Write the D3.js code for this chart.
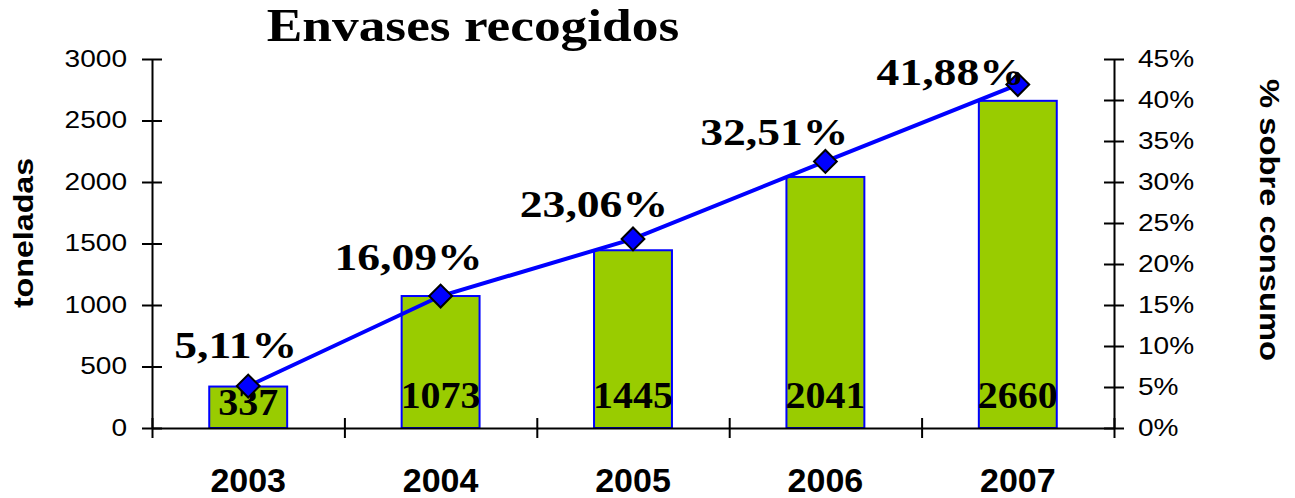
<!DOCTYPE html>
<html lang="es">
<head>
<meta charset="UTF-8">
<script src="https://d3js.org/d3.v7.min.js"></script>
<title>Envases recogidos</title>
<style>
  body { margin: 0; background: #fff; }
  svg text { fill: #000; }
</style>
</head>
<body>
<svg id="chart" width="1295" height="498"></svg>
<script>
// datos
var years = ["2003", "2004", "2005", "2006", "2007"];
var toneladas = [337, 1073, 1445, 2041, 2660];
var porcentaje = [0.0511, 0.1609, 0.2306, 0.3251, 0.4188];
var pctLabels = ["5,11%", "16,09%", "23,06%", "32,51%", "41,88%"];
var leftTicks = [0, 500, 1000, 1500, 2000, 2500, 3000];
var rightTicks = [0, 0.05, 0.10, 0.15, 0.20, 0.25, 0.30, 0.35, 0.40, 0.45];

// desplazamiento de las etiquetas de porcentaje (dx, dy respecto al punto)
var pctOffset = [[49, -28], [42, -26], [35, -22], [23, -16], [7, 0]];

var serif = "'Liberation Serif', 'Times New Roman', serif";
var sans = "'Liberation Sans', Arial, sans-serif";

var plotLeft = 152, plotRight = 1114, plotTop = 59, plotBottom = 428;

var svg = d3.select("#chart");

var x = d3.scaleBand()
    .domain(years)
    .range([plotLeft, plotRight])
    .paddingInner(0.595)
    .paddingOuter(0.2975);

var xEdge = d3.scaleLinear()
    .domain([0, years.length])
    .range([plotLeft, plotRight]);

var y0 = d3.scaleLinear().domain([0, 3000]).range([plotBottom, plotTop]);
var y1 = d3.scaleLinear().domain([0, 0.45]).range([plotBottom, plotTop]);

function cx(d, i) { return x(years[i]) + x.bandwidth() / 2; }

// titulo
svg.append("text")
    .attr("transform", "translate(473,41) scale(1.16,1)")
    .attr("text-anchor", "middle")
    .style("font-family", serif)
    .style("font-weight", "bold")
    .style("font-size", "46px")
    .text("Envases recogidos");

// barras
svg.selectAll("rect.bar")
    .data(toneladas)
    .enter().append("rect")
    .attr("class", "bar")
    .attr("x", function (d, i) { return x(years[i]); })
    .attr("y", function (d) { return y0(d); })
    .attr("width", x.bandwidth())
    .attr("height", function (d) { return plotBottom - y0(d); })
    .attr("fill", "#99cc00")
    .attr("stroke", "#0000ff")
    .attr("stroke-width", 2);

// eje izquierdo
var ejeY0 = svg.append("g")
    .attr("transform", "translate(" + plotLeft + ",0)")
    .call(d3.axisLeft(y0).tickValues(leftTicks).tickSize(10).tickSizeOuter(0)
        .tickFormat(d3.format("d")));
ejeY0.select(".domain").attr("stroke", "#000").attr("stroke-width", 2);
ejeY0.selectAll(".tick line").attr("x1", 10).attr("stroke", "#000").attr("stroke-width", 2);
ejeY0.selectAll(".tick text")
    .attr("x", -25 / 1.22)
    .attr("transform", "scale(1.22,1)")
    .style("font-family", sans)
    .style("font-size", "23px");

// eje derecho
var ejeY1 = svg.append("g")
    .attr("transform", "translate(" + plotRight + ",0)")
    .call(d3.axisRight(y1).tickValues(rightTicks).tickSize(10).tickSizeOuter(0)
        .tickFormat(d3.format(".0%")));
ejeY1.select(".domain").attr("stroke", "#000").attr("stroke-width", 2);
ejeY1.selectAll(".tick line").attr("x1", -10).attr("stroke", "#000").attr("stroke-width", 2);
ejeY1.selectAll(".tick text")
    .attr("x", 24 / 1.22)
    .attr("transform", "scale(1.22,1)")
    .style("font-family", sans)
    .style("font-size", "23px");

// eje X (marcas entre categorias)
var ejeX = svg.append("g")
    .attr("transform", "translate(0," + plotBottom + ")")
    .call(d3.axisBottom(xEdge).ticks(years.length).tickSize(10).tickSizeOuter(0).tickFormat(""));
ejeX.select(".domain").attr("stroke", "#000").attr("stroke-width", 2);
ejeX.selectAll(".tick line").attr("y1", -10).attr("stroke", "#000").attr("stroke-width", 2);

// etiquetas de años
svg.selectAll("text.year")
    .data(years)
    .enter().append("text")
    .attr("class", "year")
    .attr("x", cx)
    .attr("y", 492)
    .attr("text-anchor", "middle")
    .style("font-family", sans)
    .style("font-weight", "bold")
    .style("font-size", "34px")
    .text(function (d) { return d; });

// valores de las barras
svg.selectAll("text.valor")
    .data(toneladas)
    .enter().append("text")
    .attr("class", "valor")
    .attr("transform", function (d, i) {
        var yb = Math.max(plotBottom - 20, y0(d) + 28);
        return "translate(" + cx(d, i) + "," + yb + ") scale(1.08,1)";
    })
    .attr("text-anchor", "middle")
    .style("font-family", serif)
    .style("font-weight", "bold")
    .style("font-size", "37px")
    .text(function (d) { return d; });

// linea de porcentaje
var linea = d3.line()
    .x(cx)
    .y(function (d) { return y1(d); });

svg.append("path")
    .datum(porcentaje)
    .attr("d", linea)
    .attr("fill", "none")
    .attr("stroke", "#0000ff")
    .attr("stroke-width", 4);

svg.selectAll("path.marca")
    .data(porcentaje)
    .enter().append("path")
    .attr("class", "marca")
    .attr("d", d3.symbol().type(d3.symbolSquare).size(260))
    .attr("transform", function (d, i) {
        return "translate(" + cx(d, i) + "," + y1(d) + ") rotate(45)";
    })
    .attr("fill", "#0000ff")
    .attr("stroke", "#000")
    .attr("stroke-width", 2);

// etiquetas de porcentaje
svg.selectAll("text.pct")
    .data(porcentaje)
    .enter().append("text")
    .attr("class", "pct")
    .attr("transform", function (d, i) {
        return "translate(" + (cx(d, i) + pctOffset[i][0]) + "," + (y1(d) + pctOffset[i][1]) + ") scale(1.2,1)";
    })
    .attr("text-anchor", "end")
    .style("font-family", serif)
    .style("font-weight", "bold")
    .style("font-size", "38px")
    .text(function (d, i) { return pctLabels[i]; });

// titulos de ejes
svg.append("text")
    .attr("transform", "translate(33,233) rotate(-90) scale(1.15,1)")
    .attr("text-anchor", "middle")
    .style("font-family", sans)
    .style("font-weight", "bold")
    .style("font-size", "28px")
    .text("toneladas");

svg.append("text")
    .attr("transform", "translate(1260,220) rotate(90) scale(1.17,1)")
    .attr("text-anchor", "middle")
    .style("font-family", sans)
    .style("font-weight", "bold")
    .style("font-size", "28px")
    .text("% sobre consumo");
</script>
</body>
</html>
